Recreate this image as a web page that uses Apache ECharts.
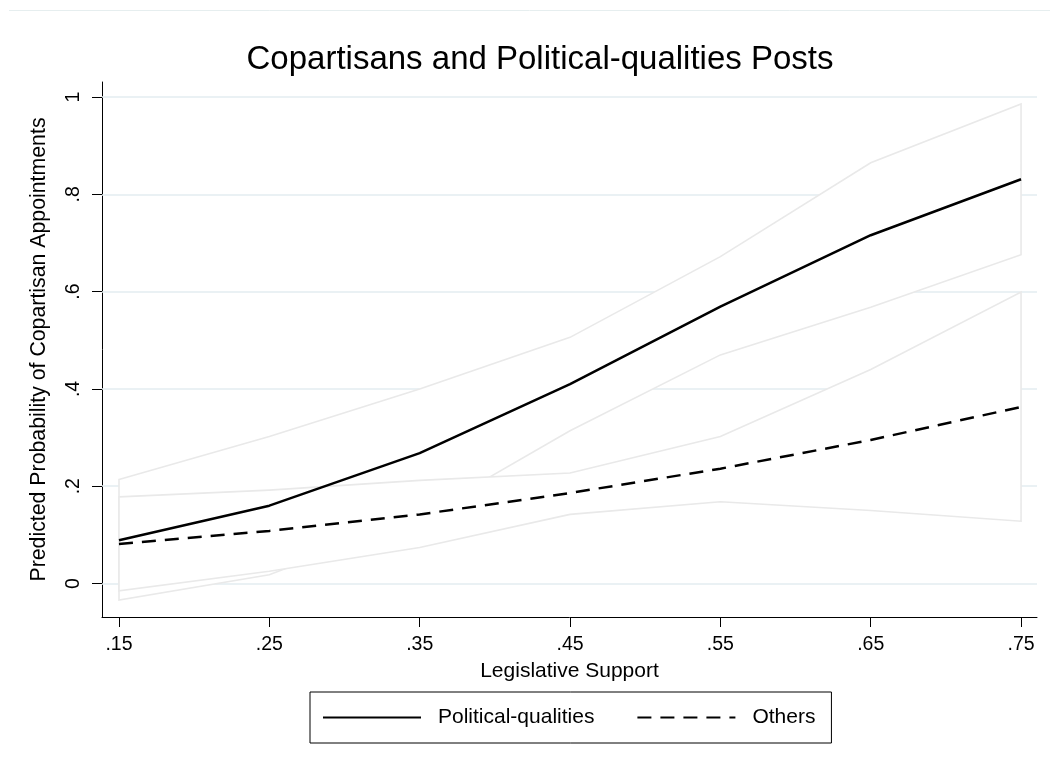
<!DOCTYPE html>
<html>
<head>
<meta charset="utf-8">
<script src="https://cdn.jsdelivr.net/npm/echarts@6/dist/echarts.min.js"></script>
<style>
  html, body { margin: 0; padding: 0; background: #ffffff; }
  #chart { width: 1050px; height: 771px; }
</style>
</head>
<body>
<div id="chart"></div>
<script>
// Legislative support levels (x) and predicted probabilities with 95% bounds
const support = [0.15, 0.25, 0.35, 0.45, 0.55, 0.65, 0.75];

const politicalProb  = [0.089, 0.160, 0.268, 0.410, 0.569, 0.716, 0.831];
const politicalLower = [-0.034, 0.018, 0.136, 0.314, 0.470, 0.568, 0.676];
const politicalUpper = [0.214, 0.302, 0.400, 0.506, 0.672, 0.865, 0.986];

const othersProb  = [0.081, 0.108, 0.142, 0.186, 0.236, 0.295, 0.363];
const othersLower = [-0.015, 0.025, 0.074, 0.142, 0.168, 0.150, 0.128];
const othersUpper = [0.178, 0.192, 0.212, 0.227, 0.302, 0.440, 0.599];

const xTicks = [0.15, 0.25, 0.35, 0.45, 0.55, 0.65, 0.75];
const yTicks = [0, 0.2, 0.4, 0.6, 0.8, 1];

const seriesNames = ['Political-qualities', 'Others'];

const FONT = "'Liberation Sans', Arial, Helvetica, sans-serif";
const GRID_COLOR = '#e3edf0';
const BAND_COLOR = '#e9e9e9';

// Stata-style labels: drop the leading zero
function tickText(v) {
  const r = Math.round(v * 100) / 100;
  if (r === 0) return '0';
  if (r === 1) return '1';
  let s = (Math.round(r * 100) % 10 === 0) ? r.toFixed(1) : r.toFixed(2);
  return s.replace(/^0/, '');
}

// Confidence band drawn as an outlined, white-filled polygon
function bandSeries(name, lower, upper) {
  return {
    type: 'custom',
    name: name,
    z: 2,
    silent: true,
    data: support.map((x, i) => [x, lower[i], upper[i]]),
    encode: { x: 0, y: [1, 2] },
    renderItem: function (params, api) {
      if (params.dataIndex !== 0) return null;
      const pts = [];
      for (let i = 0; i < support.length; i++) pts.push(api.coord([support[i], upper[i]]));
      for (let i = support.length - 1; i >= 0; i--) pts.push(api.coord([support[i], lower[i]]));
      return {
        type: 'polygon',
        shape: { points: pts },
        style: { fill: '#ffffff', stroke: BAND_COLOR, lineWidth: 1.6, lineJoin: 'miter' }
      };
    }
  };
}

const chart = echarts.init(document.getElementById('chart'), null, { renderer: 'canvas' });

chart.setOption({
  animation: false,
  backgroundColor: '#ffffff',
  textStyle: { fontFamily: FONT },
  title: {
    text: 'Copartisans and Political-qualities Posts',
    left: 540,
    textAlign: 'center',
    top: 43,
    padding: 0,
    textStyle: { fontFamily: FONT, fontSize: 33, fontWeight: 'normal', color: '#000', lineHeight: 33 }
  },
  graphic: [
    {
      type: 'line',
      shape: { x1: 9, y1: 10.5, x2: 1050, y2: 10.5 },
      style: { stroke: '#e6eeef', lineWidth: 1 },
      silent: true
    }
  ],
  grid: { left: 102, right: 13, top: 82, bottom: 154, containLabel: false },
  xAxis: {
    type: 'value',
    min: 0.1387,
    max: 0.7606,
    name: 'Legislative Support',
    nameLocation: 'middle',
    nameGap: 44,
    nameTextStyle: { fontFamily: FONT, fontSize: 21, color: '#000' },
    axisLine: { show: true, onZero: false, lineStyle: { color: '#000', width: 1 } },
    axisTick: { show: true, length: 10, customValues: xTicks, lineStyle: { color: '#000', width: 1 } },
    axisLabel: {
      customValues: xTicks,
      formatter: tickText,
      margin: 18,
      fontFamily: FONT, fontSize: 19.5, color: '#000'
    },
    splitLine: { show: false }
  },
  yAxis: {
    type: 'value',
    min: -0.0689,
    max: 1.031,
    name: 'Predicted Probability of Copartisan Appointments',
    nameLocation: 'middle',
    nameRotate: 90,
    nameGap: 52,
    nameTextStyle: { fontFamily: FONT, fontSize: 21.3, color: '#000' },
    axisLine: { show: true, onZero: false, lineStyle: { color: '#000', width: 1 } },
    axisTick: { show: true, length: 10, customValues: yTicks, lineStyle: { color: '#000', width: 1 } },
    axisLabel: {
      customValues: yTicks,
      formatter: tickText,
      rotate: 90,
      margin: 18,
      fontFamily: FONT, fontSize: 19.5, color: '#000'
    },
    splitLine: { show: false }
  },
  legend: {
    data: seriesNames,
    left: 310,
    top: 692,
    orient: 'horizontal',
    itemWidth: 98,
    itemHeight: 14,
    itemGap: 42,
    padding: [15, 16, 15, 12],
    borderColor: '#000',
    borderWidth: 1,
    borderRadius: 0,
    selectedMode: false,
    itemStyle: { opacity: 0 },
    textStyle: { fontFamily: FONT, fontSize: 21, color: '#000', lineHeight: 20, padding: [0, 0, 0, 12] }
  },
  series: [
    bandSeries('Political-qualities band', politicalLower, politicalUpper),
    bandSeries('Others band', othersLower, othersUpper),
    {
      name: seriesNames[0],
      type: 'line',
      z: 3,
      data: support.map((x, i) => [x, politicalProb[i]]),
      symbol: 'none',
      showSymbol: false,
      lineStyle: { color: '#000', width: 2.5, type: 'solid' },
      itemStyle: { color: '#000' },
      markLine: {
        silent: true,
        z: 1,
        symbol: ['none', 'none'],
        label: { show: false },
        emphasis: { disabled: true },
        lineStyle: { color: GRID_COLOR, width: 1.5, type: 'solid' },
        data: yTicks.map(v => ({ yAxis: v }))
      }
    },
    {
      name: seriesNames[1],
      type: 'line',
      z: 3,
      data: support.map((x, i) => [x, othersProb[i]]),
      symbol: 'none',
      showSymbol: false,
      lineStyle: { color: '#000', width: 2.5, type: [14, 9] },
      itemStyle: { color: '#000' }
    }
  ]
});
</script>
</body>
</html>
